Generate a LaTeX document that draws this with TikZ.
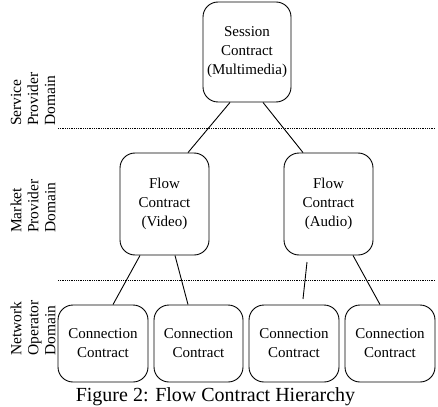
\documentclass[tikz,border=0pt]{standalone}
\usepackage{fontspec}
\setmainfont{Liberation Serif}
\begin{document}
\begin{tikzpicture}[x=1pt,y=-1pt,
  box/.style={draw,rounded corners=15pt,line width=0.9pt,align=center,inner sep=0pt,font=\fontsize{15}{19}\selectfont},
  link/.style={line width=0.9pt},
  sep/.style={line width=0.6pt,dash pattern=on 0.9pt off 0.9pt},
  dom/.style={rotate=90,align=left,anchor=west,inner sep=0pt,font=\fontsize{15.5}{17}\selectfont}]
\useasboundingbox (0,0) rectangle (438,406);
\node[box,minimum width=88pt,minimum height=100pt] (s) at (247,52) {Session\\Contract\\(Multimedia)};
\node[box,minimum width=89pt,minimum height=102pt] (v) at (164.5,204) {Flow\\Contract\\(Video)};
\node[box,minimum width=89pt,minimum height=102pt] (a) at (328.5,204) {Flow\\Contract\\(Audio)};
\node[box,minimum width=90pt,minimum height=77pt] (c1) at (103,343.5) {Connection\\Contract};
\node[box,minimum width=89pt,minimum height=77pt] (c2) at (198.5,343.5) {Connection\\Contract};
\node[box,minimum width=90pt,minimum height=77pt] (c3) at (294,343.5) {Connection\\Contract};
\node[box,minimum width=90pt,minimum height=77pt] (c4) at (390,343.5) {Connection\\Contract};
\coordinate (d1l) at (58,128); \coordinate (d1r) at (435,128);
\coordinate (d2l) at (58,280.5); \coordinate (d2r) at (435,280.5);
\draw[sep] (d1l) -- (d1r);
\draw[sep] (d2l) -- (d2r);
\draw[link] ([xshift=-17pt]s.south) -- ([xshift=23.5pt]v.north);
\draw[link] ([xshift=16pt]s.south) -- ([xshift=-25.5pt]a.north);
\draw[link] ([xshift=-24.5pt]v.south) -- ([xshift=10pt]c1.north);
\draw[link] ([xshift=10.5pt]v.south) -- ([xshift=-10.5pt]c2.north);
\coordinate (ua) at (307,262); \coordinate (ub) at (303,299);
\draw[link] (ua) -- (ub);
\draw[link] ([xshift=24.5pt]a.south) -- ([xshift=-10pt]c4.north);
\node[dom] (l1) at (33,126) {Service\\Provider\\Domain};
\node[dom] (l2) at (33,233) {Market\\Provider\\Domain};
\node[dom] (l3) at (33,356) {Network\\Operator\\Domain};
\node[font=\fontsize{20}{24}\selectfont,anchor=base,inner sep=0pt] (cap) at (215.5,401) {Figure 2: Flow Contract Hierarchy};
\end{tikzpicture}
\end{document}
